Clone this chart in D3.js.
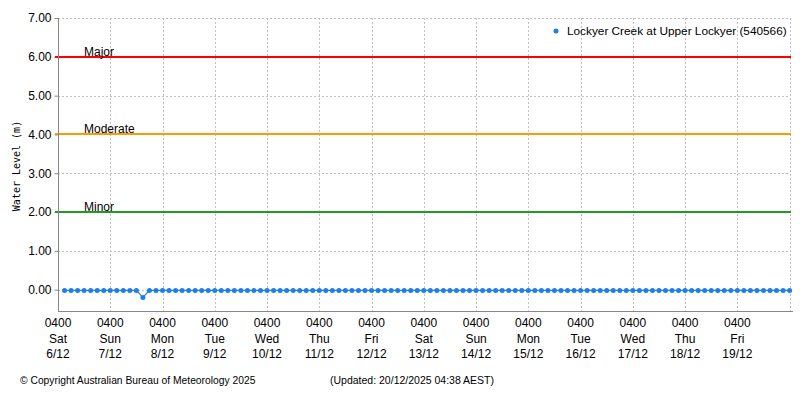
<!DOCTYPE html>
<html>
<head>
<meta charset="utf-8">
<script src="https://cdn.jsdelivr.net/npm/d3@7"></script>
<style>
  body { margin: 0; background: #fff; }
  svg text { font-family: "Liberation Sans", Arial, sans-serif; }
</style>
</head>
<body>
<script>
// water level chart
var w = 800;
var h = 400;
var margin = {left: 58, right: 9, top: 18, bottom: 89};

var seriesName = "Lockyer Creek at Upper Lockyer (540566)";
var firstReading = new Date(2025, 11, 6, 7, 0);  // readings every 3 hours
var stepHours = 3;
// water level (m)
var levels = [
  -0.02,-0.02,-0.02,-0.02,-0.02,-0.02,-0.02,-0.02,-0.02,-0.02,-0.02,-0.02,-0.20,-0.02,-0.02,-0.02,
  -0.02,-0.02,-0.02,-0.02,-0.02,-0.02,-0.02,-0.02,-0.02,-0.02,-0.02,-0.02,-0.02,-0.02,-0.02,-0.02,
  -0.02,-0.02,-0.02,-0.02,-0.02,-0.02,-0.02,-0.02,-0.02,-0.02,-0.02,-0.02,-0.02,-0.02,-0.02,-0.02,
  -0.02,-0.02,-0.02,-0.02,-0.02,-0.02,-0.02,-0.02,-0.02,-0.02,-0.02,-0.02,-0.02,-0.02,-0.02,-0.02,
  -0.02,-0.02,-0.02,-0.02,-0.02,-0.02,-0.02,-0.02,-0.02,-0.02,-0.02,-0.02,-0.02,-0.02,-0.02,-0.02,
  -0.02,-0.02,-0.02,-0.02,-0.02,-0.02,-0.02,-0.02,-0.02,-0.02,-0.02,-0.02,-0.02,-0.02,-0.02,-0.02,
  -0.02,-0.02,-0.02,-0.02,-0.02,-0.02,-0.02,-0.02,-0.02,-0.02,-0.02,-0.02,-0.02,-0.02,-0.02,-0.02
];

// flood classification lines
var floodNames = ["Major", "Moderate", "Minor"];
var floodLevels = [6, 4, 2];
var floodColors = ["#ff0000", "#ff9900", "#229922"];

var yTicks = [0, 1, 2, 3, 4, 5, 6, 7];
var dayNames = ["Sat","Sun","Mon","Tue","Wed","Thu","Fri","Sat","Sun","Mon","Tue","Wed","Thu","Fri"];
var dayDates = ["6/12","7/12","8/12","9/12","10/12","11/12","12/12","13/12","14/12","15/12","16/12","17/12","18/12","19/12"];

var copyrightText = "\u00A9 Copyright Australian Bureau of Meteorology 2025";
var updatedText = "(Updated: 20/12/2025 04:38 AEST)";

var data = levels.map(function(v, i) {
  return {t: new Date(firstReading.getTime() + i * stepHours * 3600000), v: v};
});

var svg = d3.select("body").append("svg")
            .attr("width", w)
            .attr("height", h);

var x = d3.scaleTime()
  .domain([new Date(2025, 11, 6, 4, 0), new Date(2025, 11, 20, 4, 38)])
  .range([margin.left, w - margin.right]);
var y = d3.scaleLinear()
  .domain([-0.55, 7])
  .range([h - margin.bottom, margin.top]);

var dayTicks = dayNames.map(function(d, i) { return new Date(2025, 11, 6 + i, 4, 0); });
var gridDays = dayTicks.concat([new Date(2025, 11, 20, 4, 0)]);

// grid
svg.append("g").selectAll("line")
  .data(yTicks)
  .enter().append("line")
  .attr("x1", margin.left).attr("x2", x(gridDays[gridDays.length - 1]))
  .attr("y1", function(d) { return Math.round(y(d)) + 0.5; })
  .attr("y2", function(d) { return Math.round(y(d)) + 0.5; })
  .attr("stroke", "#c0c0c0").attr("stroke-dasharray", "2,2");

svg.append("g").selectAll("line")
  .data(gridDays.slice(1))
  .enter().append("line")
  .attr("x1", function(d) { return Math.round(x(d)) + 0.5; })
  .attr("x2", function(d) { return Math.round(x(d)) + 0.5; })
  .attr("y1", y(7)).attr("y2", h - margin.bottom)
  .attr("stroke", "#c0c0c0").attr("stroke-dasharray", "2,2");

// flood lines
floodLevels.forEach(function(lv, i) {
  svg.append("line")
    .attr("x1", margin.left).attr("x2", w - margin.right)
    .attr("y1", Math.round(y(lv))).attr("y2", Math.round(y(lv)))
    .attr("stroke", floodColors[i]).attr("stroke-width", 2);
  svg.append("text")
    .attr("x", 84).attr("y", Math.round(y(lv)) - 1)
    .attr("font-size", 12).attr("fill", "#000")
    .text(floodNames[i]);
});

// y axis
var yAxis = d3.axisLeft(y).tickValues(yTicks).tickSize(4).tickFormat(d3.format(".2f"));
var gy = svg.append("g")
  .attr("transform", "translate(" + (margin.left + 0.5) + ",0)")
  .call(yAxis);
gy.select(".domain").attr("stroke", "#888").attr("d", "M0," + y(7) + "V" + (h - margin.bottom));
gy.selectAll(".tick line").attr("stroke", "#888");
gy.selectAll(".tick text").attr("font-size", 12).attr("fill", "#000");
floodLevels.forEach(function(lv, i) {
  svg.append("rect").attr("x", margin.left - 3).attr("y", Math.round(y(lv)) - 1)
    .attr("width", 3).attr("height", 2).attr("fill", floodColors[i]);
});

// x axis
var sixHours = d3.timeHour.every(6).range(new Date(2025, 11, 6, 4, 0), new Date(2025, 11, 20, 5, 0))
  .filter(function(d) { return (d.getHours() - 4) % 6 === 0; });
var xAxis = d3.axisBottom(x).tickValues(sixHours).tickSize(5).tickFormat("");
var gx = svg.append("g")
  .attr("transform", "translate(0," + (h - margin.bottom + 0.5) + ")")
  .call(xAxis);
gx.select(".domain").attr("stroke", "#888").attr("d", "M" + margin.left + ",0H" + (w - margin.right + 2));
gx.selectAll(".tick line").attr("stroke", "#666");

var labels = svg.append("g").selectAll("text")
  .data(dayTicks)
  .enter().append("text")
  .attr("x", function(d) { return x(d); })
  .attr("text-anchor", "middle")
  .attr("font-size", 12).attr("fill", "#000");
labels.append("tspan").attr("x", function(d) { return x(d); }).attr("y", 327).text("0400");
labels.append("tspan").attr("x", function(d) { return x(d); }).attr("y", 343).text(function(d, i) { return dayNames[i]; });
labels.append("tspan").attr("x", function(d) { return x(d); }).attr("y", 358).text(function(d, i) { return dayDates[i]; });

// y title
svg.append("text")
  .attr("transform", "translate(20," + 166 + ") rotate(-90)")
  .attr("text-anchor", "middle")
  .style("font-family", "'DejaVu Sans Mono', monospace")
  .attr("font-size", 10)
  .text("Water Level (m)");

// series
var line = d3.line()
  .x(function(d) { return x(d.t); })
  .y(function(d) { return y(d.v); });
svg.append("path")
  .datum(data)
  .attr("d", line)
  .attr("fill", "none")
  .attr("stroke", "#1e7fe6")
  .attr("stroke-width", 1.2);
svg.append("g").selectAll("circle")
  .data(data)
  .enter().append("circle")
  .attr("cx", function(d) { return x(d.t); })
  .attr("cy", function(d) { return y(d.v); })
  .attr("r", 2.5)
  .attr("fill", "#1e7fe6");

// legend
svg.append("circle").attr("cx", 556).attr("cy", 31).attr("r", 2.5).attr("fill", "#1e7fe6");
svg.append("text").attr("x", 567).attr("y", 35).attr("font-size", 11.8).text(seriesName);

// footer
svg.append("text").attr("x", 20).attr("y", 384).attr("font-size", 10.3).text(copyrightText);
svg.append("text").attr("x", 330).attr("y", 384).attr("font-size", 10.5).text(updatedText);
</script>
</body>
</html>
